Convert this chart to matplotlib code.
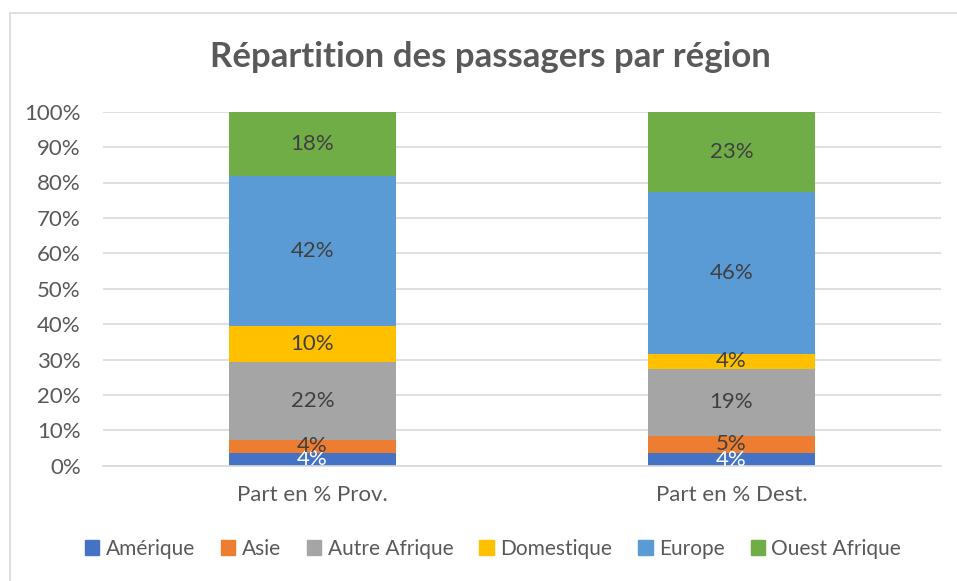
import matplotlib.pyplot as plt
from matplotlib.patches import Rectangle, Patch

plt.rcParams['font.family'] = ['Lato', 'DejaVu Sans']

categories = ['Part en % Prov.', 'Part en % Dest.']
regions = ['Amérique', 'Asie', 'Autre Afrique', 'Domestique', 'Europe', 'Ouest Afrique']
colors = ['#4472C4', '#ED7D31', '#A5A5A5', '#FFC000', '#5B9BD5', '#70AD47']

# percentages (Prov., Dest.)
amerique = [3.6, 3.5]
asie = [3.7, 5.0]
autre_afrique = [22.0, 18.9]
domestique = [10.1, 4.2]
europe = [42.4, 45.6]
ouest_afrique = [18.2, 22.8]

series = [amerique, asie, autre_afrique, domestique, europe, ouest_afrique]

fig = plt.figure(figsize=(9.57, 5.81), dpi=100)
ax = fig.add_axes([103 / 957, 1 - 465.7 / 581, 838 / 957, 354 / 581])

x = [0, 1]
bottom = [0, 0]
for name, vals, col in zip(regions, series, colors):
    ax.bar(x, vals, 0.4, bottom=bottom, color=col, label=name, zorder=2)
    for i, v in enumerate(vals):
        tc = 'white' if name == 'Amérique' else '#404040'
        ax.text(x[i], bottom[i] + v / 2, f'{v:.0f}%', ha='center', va='center',
                fontsize=16, color=tc, zorder=3)
    bottom = [b + v for b, v in zip(bottom, vals)]

ax.set_xlim(-0.5, 1.5)
ax.set_ylim(0, 100)
ax.set_yticks(range(0, 101, 10))
ax.set_yticklabels([f'{t}%' for t in range(0, 101, 10)])
ax.set_xticks(x)
ax.set_xticklabels(categories)
ax.tick_params(axis='both', length=0, labelsize=16, labelcolor='#595959')
ax.tick_params(axis='x', pad=14)
ax.tick_params(axis='y', pad=16)
ax.grid(axis='y', color='#d9d9d9', linewidth=1.2, zorder=0)
for s in ['top', 'right', 'left']:
    ax.spines[s].set_visible(False)
ax.spines['bottom'].set_color('#d9d9d9')
ax.spines['bottom'].set_linewidth(1.2)

fig.text(490 / 957, 1 - 57 / 581, 'Répartition des passagers par région', ha='center',
         va='center', fontsize=25, fontweight='bold', color='#595959')

handles = [Patch(color=c, label=r) for r, c in zip(regions, colors)]
fig.legend(handles=handles, loc='center', bbox_to_anchor=(493 / 957, 1 - 549 / 581), ncol=6,
           frameon=False, fontsize=15, labelcolor='#595959', handlelength=0.7,
           handleheight=0.7, handletextpad=0.3, columnspacing=1.25)

fig.patches.append(Rectangle((10 / 957, -0.01), 1.0, 1 - 13 / 581 + 0.01, transform=fig.transFigure,
                             fill=False, edgecolor='#d9d9d9', linewidth=1.2))

fig.savefig('out.png', dpi=100)
